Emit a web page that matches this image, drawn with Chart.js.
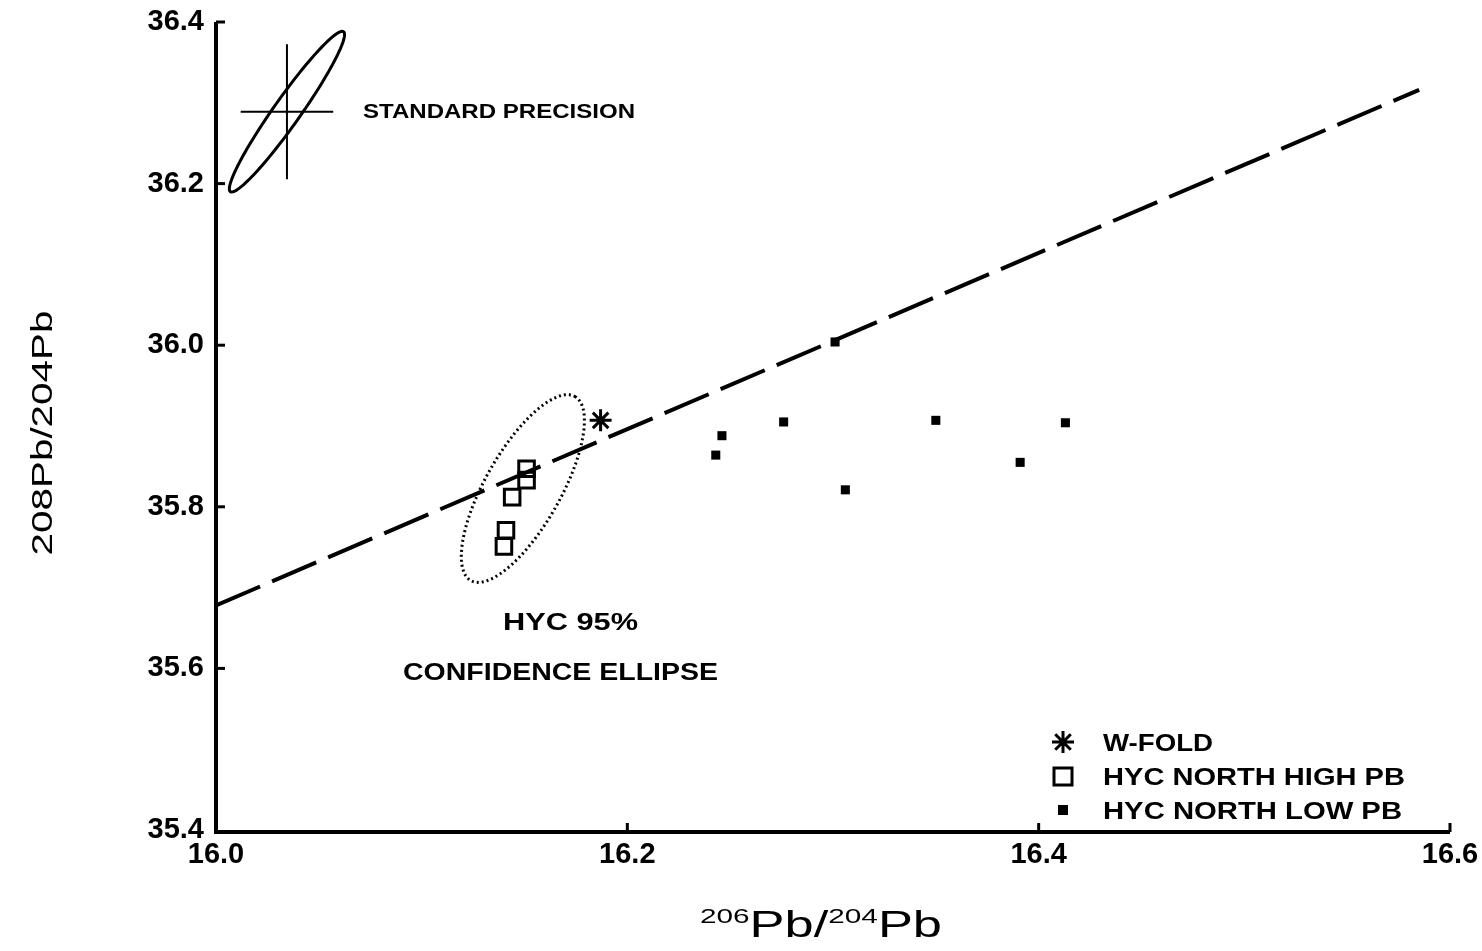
<!DOCTYPE html>
<html><head><meta charset="utf-8">
<script src="https://cdn.jsdelivr.net/npm/chart.js@4/dist/chart.umd.min.js"></script>
<style>html,body{margin:0;padding:0;background:#fff}#wrap{width:1482px;height:951px}</style>
</head><body><div id="wrap"><canvas id="c" width="1482" height="951"></canvas></div>
<script>
// ---- data ----
const xTicks = [16.0, 16.2, 16.4, 16.6];
const yTicks = [35.4, 35.6, 35.8, 36.0, 36.2, 36.4];
const wFoldX = [16.187];
const wFoldY = [35.907];
const highPbX = [16.151, 16.151, 16.144, 16.141, 16.140];
const highPbY = [35.847, 35.833, 35.812, 35.771, 35.751];
const lowPbX = [16.301, 16.246, 16.243, 16.276, 16.306, 16.350, 16.391, 16.413];
const lowPbY = [36.004, 35.888, 35.864, 35.905, 35.821, 35.907, 35.855, 35.904];
const refLineX = [16.0, 16.585];
const refLineY = [35.678, 36.316];
// ellipses: center, major semi-axis vector, minor semi-axis vector (data units)
const confEllipse = {cx: 16.1492, cy: 35.8226, ax: 0.0253, ay: 0.1139, bx: 0.0160, by: -0.0229};
const stdEllipse = {cx: 16.0345, cy: 36.289, ax: 0.0275, ay: 0.099, bx: 0.0053, by: -0.0095};
const stdCross = {cx: 16.0345, cy: 36.289, hx: 0.0225, hy: 0.0835};
const legendLabels = ['W-FOLD', 'HYC NORTH HIGH PB', 'HYC NORTH LOW PB'];

const zip = (xs, ys) => xs.map((x, i) => ({x, y: ys[i]}));
const FONT = '"Liberation Sans", Arial, sans-serif';

function drawEllipse(ctx, xs, ys, e) {
  ctx.beginPath();
  const n = 120;
  for (let i = 0; i <= n; i++) {
    const t = i / n * Math.PI * 2;
    const px = xs.getPixelForValue(e.cx + e.ax * Math.cos(t) + e.bx * Math.sin(t));
    const py = ys.getPixelForValue(e.cy + e.ay * Math.cos(t) + e.by * Math.sin(t));
    if (i === 0) ctx.moveTo(px, py); else ctx.lineTo(px, py);
  }
  ctx.closePath();
  ctx.stroke();
}

function drawStar(ctx, x, y, r) {
  ctx.beginPath();
  for (let k = 0; k < 4; k++) {
    const a = k * Math.PI / 4;
    ctx.moveTo(x - r * Math.cos(a), y - r * Math.sin(a));
    ctx.lineTo(x + r * Math.cos(a), y + r * Math.sin(a));
  }
  ctx.stroke();
}

// draw text pieces stretched horizontally to a target width; (x, y) = left edge / baseline unless centered
function stretchText(ctx, parts, x0, y0, targetW, opts) {
  opts = opts || {};
  ctx.save();
  ctx.translate(x0, y0);
  if (opts.rotate) ctx.rotate(-Math.PI / 2);
  let w = 0;
  parts.forEach(p => { ctx.font = (p.weight || '') + ' ' + p.size + 'px ' + FONT; p.w = ctx.measureText(p.t).width; w += p.w; });
  ctx.scale(targetW / w, 1);
  let x = opts.center ? -w / 2 : 0;
  ctx.textBaseline = 'alphabetic';
  ctx.textAlign = 'left';
  ctx.fillStyle = '#000';
  parts.forEach(p => { ctx.font = (p.weight || '') + ' ' + p.size + 'px ' + FONT; ctx.fillText(p.t, x, p.dy || 0); x += p.w; });
  ctx.restore();
}
const lbl = (t, size) => [{t, size, weight: 'bold'}];

const annot = {
  id: 'annot',
  afterDraw(chart) {
    const ctx = chart.ctx, xs = chart.scales.x, ys = chart.scales.y, a = chart.chartArea;
    ctx.save();
    ctx.strokeStyle = '#000'; ctx.fillStyle = '#000';
    // axes
    ctx.lineWidth = 4; ctx.lineCap = 'butt';
    ctx.beginPath(); ctx.moveTo(a.left, a.top); ctx.lineTo(a.left, a.bottom + 2); ctx.lineTo(a.right, a.bottom + 2); ctx.stroke();
    ctx.lineWidth = 3;
    yTicks.forEach(v => { if (v === yTicks[0]) return; const py = ys.getPixelForValue(v); ctx.beginPath(); ctx.moveTo(a.left, py); ctx.lineTo(a.left + 9, py); ctx.stroke(); });
    xTicks.forEach(v => { if (v === xTicks[0]) return; const px = xs.getPixelForValue(v); ctx.beginPath(); ctx.moveTo(px, a.bottom + 2); ctx.lineTo(px, a.bottom - 7); ctx.stroke(); });
    // standard precision ellipse + cross
    ctx.lineWidth = 3;
    drawEllipse(ctx, xs, ys, stdEllipse);
    ctx.lineWidth = 2;
    ctx.beginPath();
    ctx.moveTo(xs.getPixelForValue(stdCross.cx - stdCross.hx), ys.getPixelForValue(stdCross.cy));
    ctx.lineTo(xs.getPixelForValue(stdCross.cx + stdCross.hx), ys.getPixelForValue(stdCross.cy));
    ctx.moveTo(xs.getPixelForValue(stdCross.cx), ys.getPixelForValue(stdCross.cy - stdCross.hy));
    ctx.lineTo(xs.getPixelForValue(stdCross.cx), ys.getPixelForValue(stdCross.cy + stdCross.hy));
    ctx.stroke();
    // confidence ellipse (dotted)
    ctx.lineWidth = 3; ctx.setLineDash([2, 3]);
    drawEllipse(ctx, xs, ys, confEllipse);
    ctx.setLineDash([]);
    // annotation texts
    stretchText(ctx, lbl('STANDARD PRECISION', 21), 363, 118, 272);
    stretchText(ctx, lbl('HYC 95%', 24), 503, 630, 135);
    stretchText(ctx, lbl('CONFIDENCE ELLIPSE', 24), 403, 680, 315);
    // legend
    const lx = 1063, ly = [742, 776, 810];
    ctx.lineWidth = 3; drawStar(ctx, lx, ly[0], 11);
    ctx.lineWidth = 3; ctx.strokeRect(lx - 9, ly[1] - 8, 18, 17);
    ctx.fillRect(lx - 5, ly[2] - 5, 10, 10);
    const lw = [110, 302, 299];
    legendLabels.forEach((t, i) => stretchText(ctx, lbl(t, 24), 1103, ly[i] + 9, lw[i]));
    // axis titles
    stretchText(ctx, [{t: '206', size: 21, dy: -14}, {t: 'Pb/', size: 37}, {t: '204', size: 21, dy: -14}, {t: 'Pb', size: 37}], 700, 937, 242);
    stretchText(ctx, [{t: '208Pb/204Pb', size: 29}], 52, 433, 245, {rotate: true, center: true});
    ctx.restore();
  }
};

new Chart(document.getElementById('c'), {
  type: 'scatter',
  data: {
    datasets: [
      {label: 'ref', type: 'line', data: zip(refLineX, refLineY), borderColor: '#000', borderWidth: 4, borderDash: [48, 13], pointRadius: 0, fill: false},
      {label: legendLabels[0], data: zip(wFoldX, wFoldY), pointStyle: 'star', pointRadius: 11, borderColor: '#000', backgroundColor: '#000', pointBorderWidth: 3},
      {label: legendLabels[1], data: zip(highPbX, highPbY), pointStyle: 'rect', pointRadius: 11, borderColor: '#000', backgroundColor: 'rgba(255,255,255,0)', pointBorderWidth: 3},
      {label: legendLabels[2], data: zip(lowPbX, lowPbY), pointStyle: 'rect', pointRadius: 6.4, borderColor: '#000', backgroundColor: '#000', pointBorderWidth: 0}
    ]
  },
  options: {
    responsive: false, animation: false,
    layout: {padding: {left: 0, right: 32, top: 22, bottom: 0}},
    plugins: {legend: {display: false}, tooltip: {enabled: false}},
    scales: {
      x: {
        type: 'linear', min: 16.0, max: 16.6,
        afterBuildTicks: s => { s.ticks = xTicks.map(v => ({value: v})); },
        afterFit: s => { s.height = 121; s.paddingLeft = 0; s.paddingRight = 0; },
        grid: {display: false, drawTicks: false}, border: {display: false},
        ticks: {color: '#000', font: {family: FONT, size: 29, weight: 'bold'}, padding: 8, maxRotation: 0, callback: v => v.toFixed(1)}
      },
      y: {
        type: 'linear', min: 35.4, max: 36.4,
        afterBuildTicks: s => { s.ticks = yTicks.map(v => ({value: v})); },
        afterFit: s => { s.width = 216; s.paddingTop = 0; s.paddingBottom = 0; },
        grid: {display: false, drawTicks: false}, border: {display: false},
        ticks: {color: '#000', font: {family: FONT, size: 29, weight: 'bold'}, padding: 12, callback: v => v.toFixed(1)}
      }
    }
  },
  plugins: [annot]
});
</script></body></html>
